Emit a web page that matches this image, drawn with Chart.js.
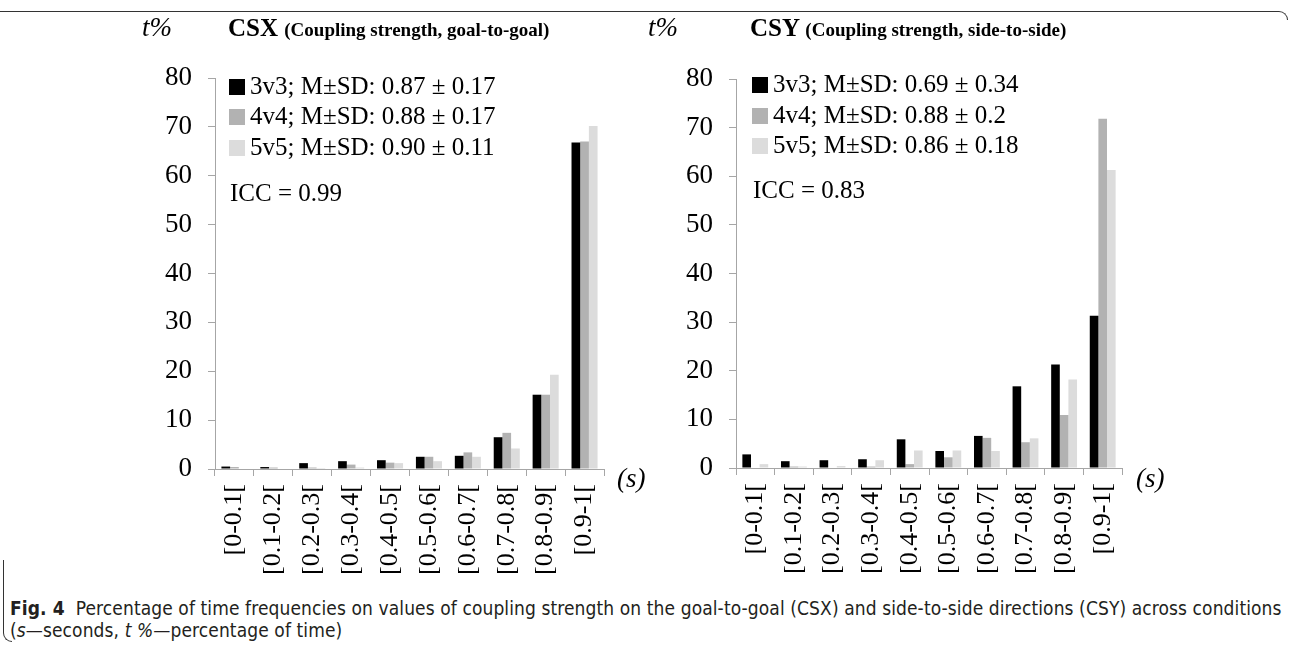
<!DOCTYPE html>
<html><head><meta charset="utf-8">
<script src="https://cdn.jsdelivr.net/npm/chart.js@4.4.1/dist/chart.umd.min.js"></script>
<style>
html,body{margin:0;padding:0;background:#fff;}
body{width:1293px;height:645px;overflow:hidden;position:relative;font-family:"Liberation Serif","Times New Roman",serif;color:#000;}
.abs{position:absolute;white-space:nowrap;}
.vc{line-height:30px;height:30px;margin-top:-15px;}
.ital{font-style:italic;font-size:27px;}
.ttl{font-weight:bold;font-size:25px;}
.ttl small{font-size:19px;font-weight:bold;}
.leg{font-size:25px;}
.sq{display:inline-block;width:16px;height:16px;margin-right:5px;vertical-align:-1px;}
.cap{font-family:"Liberation Sans Narrow","DejaVu Sans Condensed","Liberation Sans",sans-serif;font-size:19px;line-height:22px;color:#231f20;letter-spacing:0.1px;}
.frameTop{position:absolute;left:-10px;top:11px;width:1298px;height:20px;border-top:1.6px solid #333;border-right:1.6px solid #333;border-top-right-radius:9px;box-sizing:border-box;}
.frameTop:after{content:"";position:absolute;right:-3px;top:8px;width:5px;height:14px;background:#fff;}
.frameLeft{position:absolute;left:3px;top:560px;width:20px;height:82px;border-left:1.6px solid #333;border-bottom:1.6px solid #333;border-bottom-left-radius:9px;box-sizing:border-box;}
.frameLeft:after{content:"";position:absolute;left:8px;bottom:-3px;width:14px;height:5px;background:#fff;}
</style></head><body>
<div class="frameTop"></div>
<div class="frameLeft"></div>
<canvas id="c1" width="646" height="595" style="position:absolute;left:0;top:0"></canvas>
<canvas id="c2" width="600" height="595" style="position:absolute;left:646px;top:0"></canvas>
<div id="overlay"></div>
<div class="abs cap" style="left:10px;top:597px;"><b>Fig. 4</b>&nbsp; Percentage of time frequencies on values of coupling strength on the goal-to-goal (CSX) and side-to-side directions (CSY) across conditions</div>
<div class="abs cap" style="left:10px;top:619px;">(<i>s</i>—seconds, <i>t %</i>—percentage of time)</div>
<script>
// ---- data ----
const categories = ['[0-0.1[','[0.1-0.2[','[0.2-0.3[','[0.3-0.4[','[0.4-0.5[','[0.5-0.6[','[0.6-0.7[','[0.7-0.8[','[0.8-0.9[','[0.9-1['];
const seriesNames = ['3v3','4v4','5v5'];
const seriesColors = ['#000000','#b2b2b2','#dcdcdc'];
const yTicks = [0,10,20,30,40,50,60,70,80];

const csx3v3 = [0.5, 0.4, 1.2, 1.6, 1.8, 2.5, 2.7, 6.5, 15.2, 66.8];
const csx4v4 = [0.4, 0.3, 0.3, 0.9, 1.3, 2.5, 3.4, 7.4, 15.2, 67.0];
const csx5v5 = [0.1, 0.1, 0.2, 0.3, 1.2, 1.6, 2.5, 4.2, 19.3, 70.2];
const csxStats = ['0.87 ± 0.17','0.88 ± 0.17','0.90 ± 0.11'];
const csxICC = '0.99';

const csy3v3 = [2.8, 1.4, 1.6, 1.8, 5.9, 3.5, 6.6, 16.8, 21.3, 31.3];
const csy4v4 = [0.1, 0.3, 0.1, 0.3, 0.8, 2.2, 6.2, 5.3, 10.9, 71.8];
const csy5v5 = [0.8, 0.3, 0.4, 1.6, 3.6, 3.6, 3.5, 6.1, 18.2, 61.3];
const csyStats = ['0.69 ± 0.34','0.88 ± 0.2','0.86 ± 0.18'];
const csyICC = '0.83';

const titleX = ['CSX','(Coupling strength, goal-to-goal)'];
const titleY = ['CSY','(Coupling strength, side-to-side)'];

// ---- charts ----
const AX = '#a6a6a6';
function makeChart(id, series, yWidth, padTop, xHeight, padRight){
  return new Chart(document.getElementById(id), {
    type:'bar',
    data:{
      labels:categories,
      datasets: series.map((d,i)=>({label:seriesNames[i], data:d, backgroundColor:seriesColors[i], borderWidth:0,
        categoryPercentage:0.67, barPercentage:1.0}))
    },
    options:{
      responsive:false, animation:false, devicePixelRatio:1,
      layout:{padding:{top:padTop,right:padRight,left:0,bottom:0}},
      plugins:{legend:{display:false},tooltip:{enabled:false}},
      scales:{
        x:{
          afterFit:(s)=>{s.height = xHeight;},
          grid:{display:true, offset:true, drawOnChartArea:false, drawTicks:true, tickLength:7, color:AX, lineWidth:1},
          border:{display:true, color:AX, width:1},
          ticks:{autoSkip:false, minRotation:90, maxRotation:90, padding:8, color:'#000',
            font:{family:'"Liberation Serif", serif', size:26}}
        },
        y:{
          min:0, max:80,
          afterFit:(s)=>{s.width = yWidth;},
          afterBuildTicks:(s)=>{s.ticks = yTicks.map(v=>({value:v}));},
          grid:{display:true, drawOnChartArea:false, drawTicks:true, tickLength:7, color:AX, lineWidth:1},
          border:{display:true, color:AX, width:1},
          ticks:{padding:16, color:'#000', font:{family:'"Liberation Serif", serif', size:27}}
        }
      }
    }
  });
}
makeChart('c1', [csx3v3, csx4v4, csx5v5], 215, 78, 595-469, 646-604);
makeChart('c2', [csy3v3, csy4v4, csy5v5], 90, 79, 595-468, 600-476);

// ---- overlay texts ----
const ov = document.getElementById('overlay');
function add(html, cls, left, cy){
  const d = document.createElement('div');
  d.className = 'abs vc ' + cls;
  d.style.left = left + 'px';
  d.style.top = cy + 'px';
  d.innerHTML = html;
  ov.appendChild(d);
}
function panel(title, stats, icc, tx, titleLeft, legLeft, legY, iccLeft, iccY, sx){
  add('<i>t</i>%', 'ital', tx, 27);
  add(title[0] + ' <small>' + title[1] + '</small>', 'ttl', titleLeft, 28);
  stats.forEach((st,i)=>{
    add('<span class="sq" style="background:'+seriesColors[i]+'"></span>' + seriesNames[i] + '; M±SD: ' + st, 'leg', legLeft, legY[i]);
  });
  add('ICC = ' + icc, 'leg', iccLeft, iccY);
  add('(<i>s</i>)', 'ital', sx, 478);
}
panel(titleX, csxStats, csxICC, 142, 228, 229, [86,116,147], 230, 193, 617);
panel(titleY, csyStats, csyICC, 648, 750, 752, [84,115,145], 753, 190, 1136);
</script>
</body></html>
